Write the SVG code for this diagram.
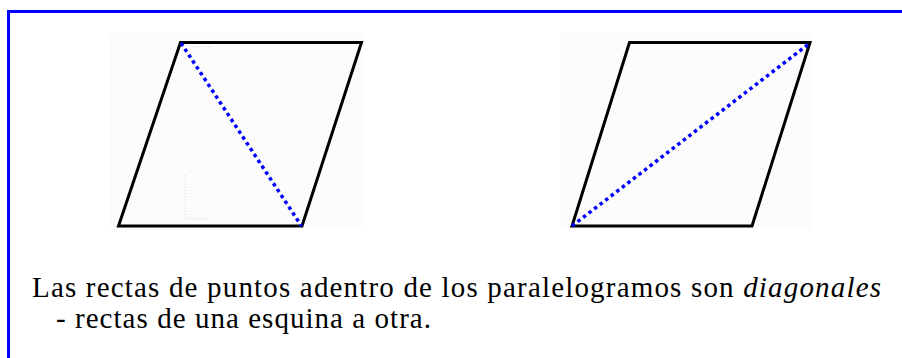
<svg xmlns="http://www.w3.org/2000/svg" width="902" height="358" viewBox="0 0 902 358">
<style>
.bg{fill:#fbfcfb;stroke:none}
.para{fill:none;stroke:#000;stroke-width:3}
.diag{fill:none;stroke:#0000ff;stroke-width:3.5;stroke-dasharray:3.5 3.5}
.faint{fill:none;stroke:#d8d8d8;stroke-width:1;stroke-dasharray:1 2}
.txt{font-family:"Liberation Serif","Times New Roman",serif;font-size:29px;fill:#000}
</style>
<rect x="0" y="0" width="902" height="358" fill="#fff"/>
<g id="border">
<path d="M8.5 358 V11.5 H902" fill="none" stroke="#0000ff" stroke-width="3"/>
</g>
<g id="left-parallelogram">
<rect class="bg" x="110" y="33" width="253" height="195"/>
<path class="faint" d="M190 47 H213 M185 175 V219 H213"/>
<polygon class="para" points="180.5,42.5 361.5,42.5 302,226 118.5,226"/>
</g>
<g id="right-parallelogram">
<rect class="bg" x="560" y="33" width="253" height="196"/>
<polygon class="para" points="629.5,42.5 810,42.5 752,226 572,226"/>
</g>
<g id="connectors">
<line class="diag" x1="181" y1="43" x2="301.5" y2="226"/>
<line class="diag" x1="572" y1="226" x2="810" y2="43"/>
</g>
<g id="caption">
<text class="txt" x="32" y="297" textLength="849" lengthAdjust="spacing">Las rectas de puntos adentro de los paralelogramos son <tspan font-style="italic">diagonales</tspan></text>
<text class="txt" x="56" y="328" textLength="375" lengthAdjust="spacing">- rectas de una esquina a otra.</text>
</g>
</svg>
